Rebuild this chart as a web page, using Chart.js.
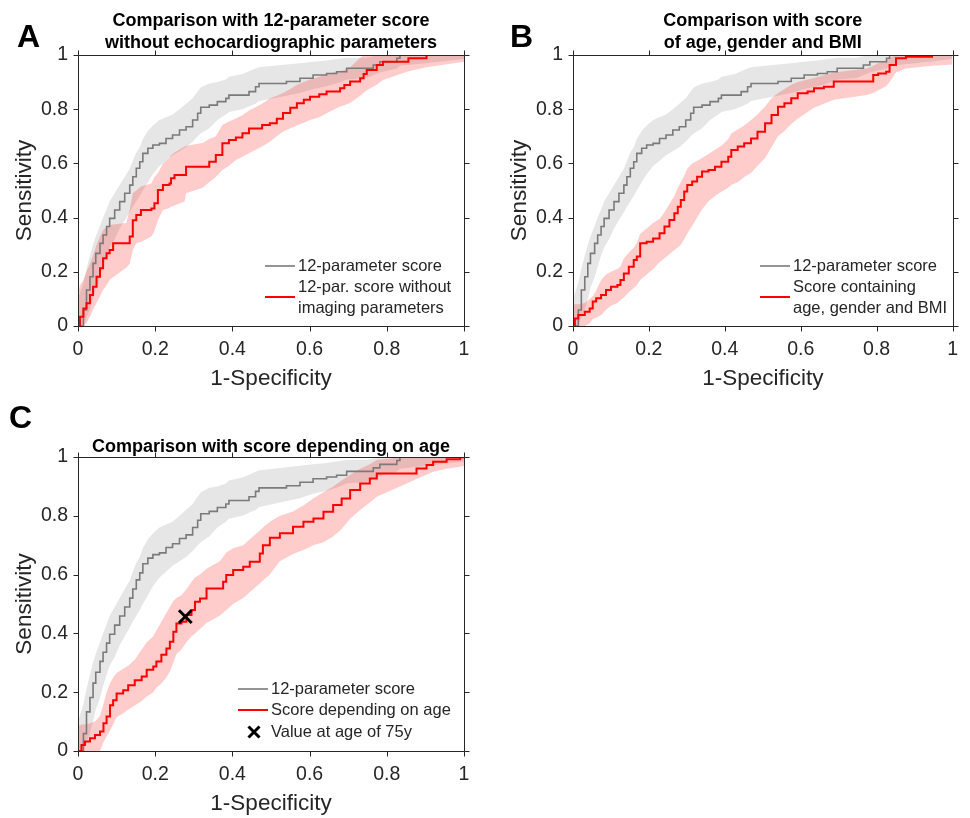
<!DOCTYPE html>
<html><head><meta charset="utf-8">
<script src="https://cdn.jsdelivr.net/npm/chart.js@4.4.1/dist/chart.umd.min.js"></script>
<style>
html,body{margin:0;padding:0;background:#fff;}
body{width:970px;height:818px;position:relative;overflow:hidden;}
canvas{position:absolute;display:block;}
</style></head><body>
<canvas id="cA" width="485" height="400" style="left:0;top:0"></canvas>
<canvas id="cB" width="485" height="400" style="left:485px;top:0"></canvas>
<canvas id="cC" width="485" height="428" style="left:0;top:390px"></canvas>
<script>
// ---------- data ----------
const tickValues = [0, 0.2, 0.4, 0.6, 0.8, 1];
const tickLabels = ['0', '0.2', '0.4', '0.6', '0.8', '1'];

// 12-parameter score (same in all panels)
const grayFpr  = [0,0.014,0.022,0.031,0.039,0.046,0.057,0.065,0.074,0.082,0.095,0.108,0.121,0.134,0.142,0.151,0.160,0.168,0.181,0.194,0.211,0.228,0.245,0.263,0.280,0.297,0.310,0.318,0.340,0.361,0.383,0.391,0.426,0.443,0.460,0.469,0.506,0.540,0.575,0.609,0.644,0.670,0.696,0.747,0.765,0.782,0.826,0.834,0.9,1];
const grayTpr  = [0,0.059,0.133,0.182,0.231,0.268,0.305,0.336,0.367,0.397,0.428,0.459,0.490,0.520,0.551,0.582,0.606,0.637,0.656,0.668,0.674,0.692,0.705,0.723,0.735,0.760,0.785,0.807,0.815,0.828,0.840,0.852,0.852,0.865,0.883,0.895,0.895,0.902,0.914,0.926,0.932,0.938,0.951,0.951,0.963,0.975,0.988,1,1,1];
const grayLow  = [0,0,0.03,0.06,0.10,0.14,0.18,0.22,0.26,0.29,0.32,0.36,0.39,0.42,0.44,0.46,0.48,0.50,0.53,0.56,0.59,0.61,0.63,0.645,0.66,0.68,0.70,0.71,0.73,0.76,0.78,0.79,0.80,0.81,0.82,0.83,0.84,0.85,0.86,0.875,0.885,0.895,0.91,0.915,0.925,0.935,0.95,0.96,0.97,0.985];
const grayHigh = [0.10,0.16,0.21,0.26,0.30,0.33,0.37,0.40,0.43,0.46,0.49,0.52,0.55,0.58,0.61,0.64,0.66,0.69,0.72,0.74,0.76,0.77,0.78,0.80,0.82,0.84,0.865,0.88,0.895,0.90,0.91,0.92,0.93,0.94,0.95,0.955,0.96,0.965,0.97,0.975,0.98,0.985,0.99,0.99,0.995,1,1,1,1,1];

// A: 12-par. score without imaging parameters
const noImgFpr  = [0,0.005,0.014,0.022,0.031,0.039,0.048,0.057,0.065,0.074,0.082,0.091,0.125,0.134,0.142,0.151,0.163,0.19,0.198,0.207,0.22,0.237,0.241,0.25,0.276,0.28,0.323,0.34,0.357,0.374,0.391,0.409,0.426,0.443,0.477,0.497,0.515,0.531,0.550,0.567,0.585,0.601,0.625,0.644,0.679,0.690,0.705,0.731,0.740,0.748,0.774,0.790,0.856,0.903,1];
const noImgTpr  = [0,0.034,0.065,0.084,0.114,0.145,0.182,0.213,0.25,0.268,0.28,0.305,0.305,0.33,0.39,0.41,0.428,0.434,0.453,0.502,0.52,0.526,0.545,0.557,0.557,0.588,0.588,0.606,0.631,0.674,0.686,0.696,0.711,0.729,0.742,0.748,0.765,0.786,0.805,0.822,0.835,0.846,0.855,0.865,0.877,0.889,0.902,0.914,0.930,0.945,0.963,0.975,0.988,1,1];
const noImgLow  = [0,0,0,0.01,0.035,0.06,0.085,0.11,0.133,0.15,0.17,0.18,0.215,0.23,0.28,0.305,0.31,0.33,0.35,0.39,0.428,0.435,0.44,0.445,0.459,0.49,0.51,0.53,0.55,0.576,0.59,0.613,0.625,0.637,0.662,0.68,0.70,0.717,0.73,0.74,0.75,0.76,0.77,0.785,0.81,0.815,0.823,0.85,0.86,0.87,0.89,0.908,0.94,0.955,0.975];
const noImgHigh = [0.12,0.15,0.17,0.20,0.23,0.26,0.30,0.33,0.354,0.365,0.373,0.375,0.38,0.43,0.49,0.50,0.515,0.526,0.55,0.565,0.60,0.62,0.63,0.64,0.662,0.665,0.675,0.69,0.70,0.742,0.755,0.766,0.778,0.795,0.82,0.84,0.85,0.86,0.875,0.89,0.90,0.91,0.92,0.93,0.94,0.945,0.955,0.99,1,1,1,1,1,1,1];

// B: score containing age, gender and BMI
const agbFpr  = [0,0.005,0.014,0.031,0.044,0.052,0.061,0.074,0.087,0.10,0.117,0.125,0.134,0.147,0.16,0.168,0.177,0.194,0.211,0.228,0.241,0.254,0.267,0.276,0.284,0.293,0.301,0.314,0.327,0.340,0.357,0.374,0.391,0.409,0.417,0.434,0.451,0.469,0.486,0.506,0.523,0.540,0.557,0.575,0.592,0.618,0.635,0.661,0.687,0.774,0.791,0.804,0.825,0.834,0.851,0.877,0.946,1];
const agbTpr  = [0,0.028,0.041,0.053,0.065,0.09,0.102,0.114,0.133,0.145,0.151,0.17,0.194,0.219,0.244,0.256,0.305,0.311,0.323,0.342,0.367,0.391,0.416,0.44,0.465,0.496,0.520,0.533,0.551,0.570,0.576,0.588,0.606,0.625,0.649,0.662,0.674,0.692,0.717,0.748,0.779,0.809,0.822,0.840,0.859,0.865,0.877,0.883,0.902,0.902,0.926,0.932,0.938,0.963,0.988,0.994,1,1];
const agbLow  = [0,0,0,0,0.01,0.025,0.03,0.04,0.06,0.075,0.085,0.095,0.105,0.125,0.14,0.15,0.17,0.19,0.21,0.235,0.25,0.265,0.28,0.29,0.30,0.32,0.34,0.37,0.40,0.43,0.46,0.48,0.495,0.51,0.52,0.53,0.55,0.565,0.59,0.62,0.66,0.70,0.72,0.745,0.765,0.79,0.805,0.82,0.835,0.852,0.86,0.87,0.885,0.90,0.935,0.95,0.96,0.965];
const agbHigh = [0.08,0.08,0.08,0.085,0.10,0.11,0.13,0.17,0.19,0.20,0.21,0.22,0.25,0.27,0.29,0.305,0.34,0.36,0.38,0.395,0.42,0.45,0.48,0.51,0.53,0.555,0.58,0.60,0.61,0.62,0.635,0.65,0.665,0.69,0.71,0.725,0.74,0.76,0.78,0.81,0.84,0.86,0.875,0.89,0.90,0.91,0.915,0.925,0.935,0.95,0.96,0.97,0.98,0.99,1,1,1,1];

// C: score depending on age
const ageFpr  = [0,0.009,0.018,0.031,0.044,0.057,0.066,0.074,0.083,0.091,0.10,0.117,0.130,0.147,0.165,0.178,0.195,0.203,0.216,0.229,0.238,0.247,0.255,0.268,0.281,0.294,0.303,0.316,0.333,0.367,0.376,0.384,0.402,0.428,0.445,0.471,0.479,0.497,0.523,0.557,0.584,0.610,0.636,0.661,0.683,0.705,0.731,0.756,0.774,0.843,0.877,0.903,0.920,0.955,0.990,1];
const ageTpr  = [0,0.02,0.032,0.043,0.054,0.066,0.094,0.117,0.156,0.173,0.196,0.207,0.224,0.241,0.253,0.276,0.287,0.304,0.327,0.349,0.372,0.406,0.434,0.44,0.463,0.48,0.508,0.519,0.553,0.553,0.576,0.599,0.616,0.627,0.644,0.672,0.70,0.725,0.741,0.763,0.780,0.791,0.814,0.837,0.859,0.888,0.910,0.927,0.944,0.944,0.961,0.973,0.984,0.992,0.999,1];
const ageLow  = [0,0,0,0,0,0,0.03,0.05,0.07,0.09,0.115,0.128,0.14,0.155,0.17,0.185,0.20,0.215,0.23,0.25,0.27,0.30,0.33,0.345,0.37,0.39,0.40,0.415,0.435,0.46,0.47,0.48,0.50,0.52,0.54,0.57,0.58,0.60,0.645,0.67,0.684,0.70,0.71,0.73,0.755,0.79,0.82,0.845,0.865,0.905,0.925,0.94,0.95,0.96,0.967,0.97];
const ageHigh = [0.083,0.09,0.09,0.094,0.10,0.12,0.16,0.20,0.23,0.25,0.265,0.28,0.29,0.31,0.345,0.37,0.39,0.41,0.44,0.47,0.49,0.51,0.52,0.53,0.55,0.575,0.59,0.60,0.62,0.645,0.66,0.675,0.69,0.70,0.72,0.75,0.76,0.78,0.80,0.815,0.835,0.86,0.88,0.90,0.92,0.94,0.96,0.975,0.99,1,1,1,1,1,1,1];

// value at age of 75 years
const age75Fpr = [0.278];
const age75Tpr = [0.457];

// ---------- styling ----------
const FONT = "'Liberation Sans', Arial, Helvetica, sans-serif";
const INK = '#262626';
const GRAY_LINE = '#7a7a7a';
const RED_LINE = '#ff0000';
const GRAY_BAND = 'rgba(128,128,128,0.2)';
const RED_BAND = 'rgba(255,0,0,0.2)';

function pts(xs, ys) { return xs.map((x, i) => ({x: x, y: ys[i]})); }

function datasets(rF, rT, rLo, rHi, withMarker) {
  const band = {borderWidth: 0, borderColor: 'rgba(0,0,0,0)', pointRadius: 0, stepped: false, tension: 0};
  const ds = [
    Object.assign({data: pts(grayFpr, grayHigh), fill: '+1', backgroundColor: GRAY_BAND, order: 6}, band),
    Object.assign({data: pts(grayFpr, grayLow), fill: false, order: 5}, band),
    Object.assign({data: pts(rF, rHi), fill: '+1', backgroundColor: RED_BAND, order: 4}, band),
    Object.assign({data: pts(rF, rLo), fill: false, order: 3}, band),
    {data: pts(grayFpr, grayTpr), borderColor: GRAY_LINE, borderWidth: 1.6, pointRadius: 0, stepped: 'before', fill: false, order: 2, borderJoinStyle: 'miter'},
    {data: pts(rF, rT), borderColor: RED_LINE, borderWidth: 2, pointRadius: 0, stepped: 'before', fill: false, order: 1, borderJoinStyle: 'miter'}
  ];
  if (withMarker) {
    ds.push({data: pts(age75Fpr, age75Tpr), showLine: false, pointStyle: 'crossRot', pointRadius: 9,
      borderColor: '#000', backgroundColor: '#000', pointBorderWidth: 3, order: 0, fill: false});
  }
  return ds;
}

const decor = {
  id: 'decor',
  afterDraw(chart, args, o) {
    const ctx = chart.ctx, a = chart.chartArea, sx = chart.scales.x, sy = chart.scales.y;
    ctx.save();
    // box and outward ticks
    ctx.strokeStyle = INK; ctx.lineWidth = 1;
    const L = Math.round(a.left) + 0.5, R = Math.round(a.right) + 0.5, T = Math.round(a.top) + 0.5, B = Math.round(a.bottom) + 0.5;
    ctx.beginPath();
    ctx.rect(L, T, R - L, B - T);
    tickValues.forEach(v => {
      const px = Math.round(sx.getPixelForValue(v)) + 0.5;
      const py = Math.round(sy.getPixelForValue(v)) + 0.5;
      ctx.moveTo(px, B); ctx.lineTo(px, B + 5);
      ctx.moveTo(px, T); ctx.lineTo(px, T - 5);
      ctx.moveTo(L, py); ctx.lineTo(L - 5, py);
      ctx.moveTo(R, py); ctx.lineTo(R + 5, py);
    });
    ctx.stroke();
    // panel letter
    ctx.fillStyle = '#000';
    ctx.font = 'bold 32px ' + FONT;
    ctx.textAlign = 'left'; ctx.textBaseline = 'alphabetic';
    ctx.fillText(o.letter, o.letterX, o.letterY);
    // title
    ctx.font = 'bold 18px ' + FONT;
    ctx.textAlign = 'center'; ctx.textBaseline = 'middle';
    o.title.forEach((t, i) => ctx.fillText(t, (a.left + a.right) / 2, o.titleY + i * 22));
    // legend
    ctx.font = '16.5px ' + FONT;
    ctx.textAlign = 'left'; ctx.textBaseline = 'middle';
    o.legend.forEach(e => {
      if (e.kind === 'line') {
        ctx.strokeStyle = e.color; ctx.lineWidth = e.width;
        ctx.beginPath(); ctx.moveTo(o.legX, e.y); ctx.lineTo(o.legX + 30, e.y); ctx.stroke();
      } else if (e.kind === 'cross') {
        const cx = o.legX + 16, cy = e.y, r = 5.5;
        ctx.strokeStyle = '#000'; ctx.lineWidth = 3;
        ctx.beginPath(); ctx.moveTo(cx - r, cy - r); ctx.lineTo(cx + r, cy + r);
        ctx.moveTo(cx - r, cy + r); ctx.lineTo(cx + r, cy - r); ctx.stroke();
      }
      ctx.fillStyle = INK;
      e.text.forEach((t, i) => ctx.fillText(t, o.legX + 33, e.textY[i]));
    });
    ctx.restore();
  }
};

function makeChart(id, ds, cfg) {
  const tickFont = {family: FONT, size: 19.5};
  const titleFont = {family: FONT, size: 22.5};
  return new Chart(document.getElementById(id), {
    type: 'line',
    data: {datasets: ds},
    plugins: [decor],
    options: {
      responsive: false, animation: false, events: [],
      layout: {padding: {left: 0, right: cfg.padRight, top: cfg.padTop, bottom: 0}},
      plugins: {
        legend: {display: false}, tooltip: {enabled: false},
        filler: {drawTime: 'beforeDatasetsDraw'},
        decor: cfg.decor
      },
      scales: {
        x: {
          type: 'linear', min: 0, max: 1, position: 'bottom',
          afterBuildTicks: s => { s.ticks = tickValues.map(v => ({value: v})); },
          afterFit: s => { s.height = cfg.xH; },
          ticks: {font: tickFont, color: INK, padding: 12, maxRotation: 0, autoSkip: false,
                  callback: v => tickLabels[tickValues.indexOf(v)]},
          grid: {display: false, drawTicks: false}, border: {display: false},
          title: {display: true, text: '1-Specificity', font: titleFont, color: INK, padding: {top: 0, bottom: cfg.xTitlePad}}
        },
        y: {
          type: 'linear', min: 0, max: 1, position: 'left',
          afterBuildTicks: s => { s.ticks = tickValues.map(v => ({value: v})); },
          afterFit: s => { s.width = cfg.yW; },
          ticks: {font: tickFont, color: INK, padding: 10, autoSkip: false,
                  callback: v => tickLabels[tickValues.indexOf(v)]},
          grid: {display: false, drawTicks: false}, border: {display: false},
          title: {display: true, text: 'Sensitivity', font: titleFont, color: INK, padding: {top: cfg.yTitlePad, bottom: 0}}
        }
      }
    }
  });
}

makeChart('cA', datasets(noImgFpr, noImgTpr, noImgLow, noImgHigh, false), {
  padRight: 21, padTop: 55, xH: 74, yW: 78, xTitlePad: 8, yTitlePad: 11.5,
  decor: {
    letter: 'A', letterX: 17, letterY: 47,
    title: ['Comparison with 12-parameter score', 'without echocardiographic parameters'], titleY: 21,
    legX: 265,
    legend: [
      {kind: 'line', color: GRAY_LINE, width: 1.6, y: 266, text: ['12-parameter score'], textY: [266]},
      {kind: 'line', color: RED_LINE, width: 2, y: 297, text: ['12-par. score without', 'imaging parameters'], textY: [287, 308]}
    ]
  }
});

makeChart('cB', datasets(agbFpr, agbTpr, agbLow, agbHigh, false), {
  padRight: 11, padTop: 55, xH: 74, yW: 88, xTitlePad: 8, yTitlePad: 21.5,
  decor: {
    letter: 'B', letterX: 25, letterY: 47,
    title: ['Comparison with score', 'of age, gender and BMI'], titleY: 21,
    legX: 275,
    legend: [
      {kind: 'line', color: GRAY_LINE, width: 1.6, y: 266, text: ['12-parameter score'], textY: [266]},
      {kind: 'line', color: RED_LINE, width: 2, y: 297, text: ['Score containing', 'age, gender and BMI'], textY: [287, 308]}
    ]
  }
});

makeChart('cC', datasets(ageFpr, ageTpr, ageLow, ageHigh, true), {
  padRight: 21, padTop: 67, xH: 67, yW: 78, xTitlePad: 1, yTitlePad: 11.5,
  decor: {
    letter: 'C', letterX: 9, letterY: 38,
    title: ['Comparison with score depending on age'], titleY: 57,
    legX: 238,
    legend: [
      {kind: 'line', color: GRAY_LINE, width: 1.6, y: 299, text: ['12-parameter score'], textY: [299]},
      {kind: 'line', color: RED_LINE, width: 2, y: 320, text: ['Score depending on age'], textY: [320]},
      {kind: 'cross', y: 342, text: ['Value at age of 75y'], textY: [342]}
    ]
  }
});
</script></body></html>
